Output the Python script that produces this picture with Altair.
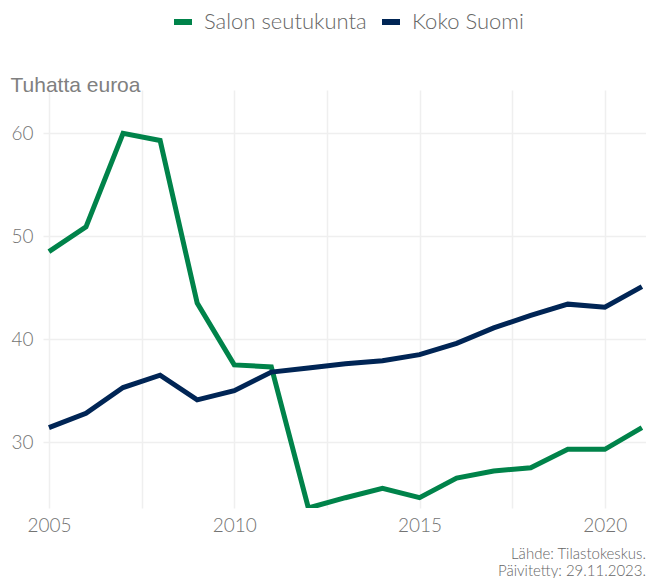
import altair as alt
import pandas as pd

years = list(range(2005, 2022))
salo = [48.5, 50.9, 60.0, 59.3, 43.5, 37.5, 37.3, 23.6, 24.6, 25.5, 24.6, 26.5, 27.2, 27.5, 29.3, 29.3, 31.4]
suomi = [31.4, 32.8, 35.3, 36.5, 34.1, 35.0, 36.8, 37.2, 37.6, 37.9, 38.5, 39.6, 41.1, 42.3, 43.4, 43.1, 45.1]
series = ["Salon seutukunta", "Koko Suomi"]
colors = ["#00834A", "#002555"]
x_ticks = [2005, 2007.5, 2010, 2012.5, 2015, 2017.5, 2020]
y_ticks = [30, 40, 50, 60]

df = pd.DataFrame(
    [{"vuosi": y, "arvo": v, "alue": series[0]} for y, v in zip(years, salo)]
    + [{"vuosi": y, "arvo": v, "alue": series[1]} for y, v in zip(years, suomi)]
)

FONT = "Lato"
GRAY = "#737373"

chart = (
    alt.Chart(df)
    .mark_line(strokeWidth=5, clip=True, strokeJoin="miter")
    .encode(
        x=alt.X(
            "vuosi:Q",
            scale=alt.Scale(domain=[2004.84, 2021.11], nice=False, zero=False),
            axis=alt.Axis(
                values=x_ticks,
                labelExpr="datum.value % 5 == 0 ? datum.label : ''",
                format="d",
                title=None,
                grid=True,
                gridColor="#efefef",
                gridWidth=1.5,
                domain=False,
                ticks=False,
                labelFont=FONT,
                labelFontWeight=300,
                labelFontSize=19,
                labelColor=GRAY,
                labelPadding=8,
            ),
        ),
        y=alt.Y(
            "arvo:Q",
            scale=alt.Scale(domain=[23.6, 64.2], nice=False, zero=False),
            axis=alt.Axis(
                values=y_ticks,
                title="Tuhatta euroa",
                titleAngle=0,
                titleAlign="left",
                titleBaseline="alphabetic",
                titleX=-33,
                titleY=1,
                titleFont="Liberation Sans",
                titleFontWeight="normal",
                titleFontSize=21,
                titleColor="#808080",
                grid=True,
                gridColor="#efefef",
                gridWidth=1.5,
                domain=False,
                ticks=False,
                labelFont=FONT,
                labelFontWeight=300,
                labelFontSize=19,
                labelColor=GRAY,
                labelPadding=10,
            ),
        ),
        color=alt.Color(
            "alue:N",
            scale=alt.Scale(domain=series, range=colors),
            sort=series,
            legend=alt.Legend(
                title=None,
                orient="none",
                direction="horizontal",
                legendX=128,
                legendY=-80,
                symbolType="stroke",
                symbolSize=324,
                symbolStrokeWidth=6,
                labelFont=FONT,
                labelFontWeight=300,
                labelFontSize=22,
                labelLimit=300,
                labelColor="#666666",
                labelOffset=9,
                columnPadding=3,
            ),
        ),
    )
    .properties(
        width=603,
        height=418,
        autosize=alt.AutoSizeParams(type="none"),
        padding={"left": 35, "top": 82, "right": 0, "bottom": 70},
        title=alt.TitleParams(
            text=["Lähde: Tilastokeskus.", "Päivitetty: 29.11.2023."],
            orient="bottom",
            anchor="end",
            frame="group",
            font=FONT,
            fontWeight=300,
            fontSize=15,
            lineHeight=16.5,
            color="#666666",
            offset=12,
        ),
    )
    .configure_view(stroke=None)
)

chart.save("out.html", embed_options={"renderer": "svg", "actions": False})
